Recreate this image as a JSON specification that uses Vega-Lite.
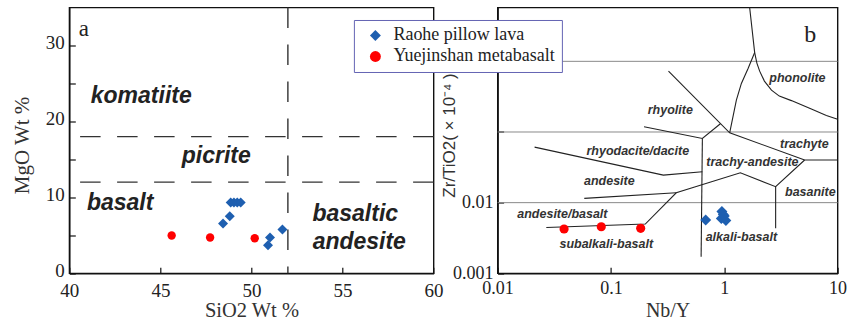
{
  "$schema": "https://vega.github.io/schema/vega-lite/v6.json",
  "padding": {"left": 10.3, "top": 4.5, "right": 4, "bottom": 4},
  "bounds": "flush",
  "spacing": 63.3,
  "background": "white",
  "config": {
    "view": {"stroke": "#111", "strokeWidth": 1.4},
    "style": {"guide-label": {"font": "Liberation Serif", "fill": "#222"}, "guide-title": {"font": "Liberation Serif", "fill": "#333"}},
    "axis": {
      "domainColor": "#111", "domainWidth": 1.4,
      "tickColor": "#111", "tickWidth": 1.2, "tickSize": -6,
      "labelFont": "Liberation Serif", "labelColor": "#222", "labelFlush": false,
      "titleFont": "Liberation Serif", "titleFontWeight": "normal", "titleColor": "#333",
      "grid": false
    },
    "legend": {
      "orient": "none", "legendX": 284.6, "legendY": 12.5,
      "fillColor": "white", "strokeColor": "#6464b4",
      "padding": 6.5, "symbolOffset": 6, "labelOffset": 9, "rowPadding": 3,
      "symbolSize": 120, "symbolStrokeWidth": 0, "labelLimit": 400,
      "labelFont": "Liberation Serif", "labelFontSize": 18, "labelColor": "#222"
    }
  },
  "datasets": {
    "mgoLimits": [{"MgO": 12}, {"MgO": 18}],
    "silicaLimit": [{"SiO2": 52}],
    "fieldsA": [
      {"label": "komatiite", "SiO2": 43.95, "MgO": 22.4},
      {"label": "picrite", "SiO2": 48.07, "MgO": 14.47},
      {"label": "basalt", "SiO2": 42.79, "MgO": 8.31},
      {"label": "basaltic", "SiO2": 55.7, "MgO": 6.9},
      {"label": "andesite", "SiO2": 55.92, "MgO": 3.26}
    ],
    "tagA": [{"label": "a", "SiO2": 40.8, "MgO": 31.2}],
    "raoheA": [
      {"series": "Raohe pillow lava", "SiO2": 48.86, "MgO": 9.33},
      {"series": "Raohe pillow lava", "SiO2": 49.04, "MgO": 9.33},
      {"series": "Raohe pillow lava", "SiO2": 49.22, "MgO": 9.33},
      {"series": "Raohe pillow lava", "SiO2": 49.41, "MgO": 9.33},
      {"series": "Raohe pillow lava", "SiO2": 48.81, "MgO": 7.52},
      {"series": "Raohe pillow lava", "SiO2": 48.44, "MgO": 6.56},
      {"series": "Raohe pillow lava", "SiO2": 51.7, "MgO": 5.77},
      {"series": "Raohe pillow lava", "SiO2": 51.02, "MgO": 4.71},
      {"series": "Raohe pillow lava", "SiO2": 50.91, "MgO": 3.69}
    ],
    "yuejinA": [
      {"series": "Yuejinshan metabasalt", "SiO2": 45.62, "MgO": 4.97},
      {"series": "Yuejinshan metabasalt", "SiO2": 47.73, "MgO": 4.71},
      {"series": "Yuejinshan metabasalt", "SiO2": 50.18, "MgO": 4.62}
    ],
    "gridB": [{"ZrTi": 0.01}, {"ZrTi": 0.1}, {"ZrTi": 1}],
    "boundaries": [
      {"seg": "A", "i": 0, "NbY": 1.675, "ZrTi": 5.78},
      {"seg": "A", "i": 1, "NbY": 1.855, "ZrTi": 1.33},
      {"seg": "A", "i": 2, "NbY": 1.94, "ZrTi": 0.944},
      {"seg": "A", "i": 3, "NbY": 2.053, "ZrTi": 0.727},
      {"seg": "A", "i": 4, "NbY": 2.26, "ZrTi": 0.525},
      {"seg": "A", "i": 5, "NbY": 2.61, "ZrTi": 0.391},
      {"seg": "A", "i": 6, "NbY": 3.06, "ZrTi": 0.322},
      {"seg": "A", "i": 7, "NbY": 3.91, "ZrTi": 0.278},
      {"seg": "A", "i": 8, "NbY": 5.87, "ZrTi": 0.211},
      {"seg": "A", "i": 9, "NbY": 7.96, "ZrTi": 0.171},
      {"seg": "A", "i": 10, "NbY": 10, "ZrTi": 0.151},
      {"seg": "B", "i": 0, "NbY": 1.855, "ZrTi": 1.33},
      {"seg": "B", "i": 1, "NbY": 1.622, "ZrTi": 0.794},
      {"seg": "B", "i": 2, "NbY": 1.416, "ZrTi": 0.487},
      {"seg": "B", "i": 3, "NbY": 1.279, "ZrTi": 0.283},
      {"seg": "B", "i": 4, "NbY": 1.116, "ZrTi": 0.0975},
      {"seg": "C", "i": 0, "NbY": 0.322, "ZrTi": 0.726},
      {"seg": "C", "i": 1, "NbY": 1.116, "ZrTi": 0.0975},
      {"seg": "C", "i": 2, "NbY": 5.12, "ZrTi": 0.0401},
      {"seg": "D", "i": 0, "NbY": 5.12, "ZrTi": 0.0401},
      {"seg": "D", "i": 1, "NbY": 10, "ZrTi": 0.0401},
      {"seg": "E", "i": 0, "NbY": 5.12, "ZrTi": 0.0401},
      {"seg": "E", "i": 1, "NbY": 2.84, "ZrTi": 0.0168},
      {"seg": "E", "i": 2, "NbY": 1.387, "ZrTi": 0.0265},
      {"seg": "E", "i": 3, "NbY": 0.377, "ZrTi": 0.0138},
      {"seg": "E", "i": 4, "NbY": 0.201, "ZrTi": 0.00498},
      {"seg": "E", "i": 5, "NbY": 0.0269, "ZrTi": 0.00445},
      {"seg": "F", "i": 0, "NbY": 2.84, "ZrTi": 0.0168},
      {"seg": "F", "i": 1, "NbY": 2.84, "ZrTi": 0.00433},
      {"seg": "G", "i": 0, "NbY": 0.0582, "ZrTi": 0.0115},
      {"seg": "G", "i": 1, "NbY": 0.377, "ZrTi": 0.0138},
      {"seg": "H", "i": 0, "NbY": 0.0212, "ZrTi": 0.0611},
      {"seg": "H", "i": 1, "NbY": 0.29, "ZrTi": 0.0245},
      {"seg": "H", "i": 2, "NbY": 0.641, "ZrTi": 0.0274},
      {"seg": "I", "i": 0, "NbY": 0.641, "ZrTi": 0.0811},
      {"seg": "I", "i": 1, "NbY": 0.625, "ZrTi": 0.00172},
      {"seg": "J", "i": 0, "NbY": 0.196, "ZrTi": 0.1186},
      {"seg": "J", "i": 1, "NbY": 0.641, "ZrTi": 0.0811},
      {"seg": "J", "i": 2, "NbY": 0.924, "ZrTi": 0.131}
    ],
    "fieldsB": [
      {"label": "phonolite", "NbY": 4.42, "ZrTi": 0.578},
      {"label": "rhyolite", "NbY": 0.334, "ZrTi": 0.204},
      {"label": "trachyte", "NbY": 5.09, "ZrTi": 0.0668},
      {"label": "rhyodacite/dacite", "NbY": 0.1726, "ZrTi": 0.0542},
      {"label": "trachy-andesite", "NbY": 1.77, "ZrTi": 0.0372},
      {"label": "andesite", "NbY": 0.0968, "ZrTi": 0.0202},
      {"label": "basanite", "NbY": 5.75, "ZrTi": 0.014},
      {"label": "andesite/basalt", "NbY": 0.0373, "ZrTi": 0.0069},
      {"label": "subalkali-basalt", "NbY": 0.091, "ZrTi": 0.00259},
      {"label": "alkali-basalt", "NbY": 1.416, "ZrTi": 0.00323}
    ],
    "tagB": [{"label": "b", "NbY": 5.75, "ZrTi": 1.89}],
    "raoheB": [
      {"series": "Raohe pillow lava", "NbY": 0.686, "ZrTi": 0.00568},
      {"series": "Raohe pillow lava", "NbY": 0.953, "ZrTi": 0.00748},
      {"series": "Raohe pillow lava", "NbY": 0.942, "ZrTi": 0.00596},
      {"series": "Raohe pillow lava", "NbY": 1.033, "ZrTi": 0.00558},
      {"series": "Raohe pillow lava", "NbY": 1.0, "ZrTi": 0.00646},
      {"series": "Raohe pillow lava", "NbY": 0.98, "ZrTi": 0.0068}
    ],
    "yuejinB": [
      {"series": "Yuejinshan metabasalt", "NbY": 0.0386, "ZrTi": 0.00424},
      {"series": "Yuejinshan metabasalt", "NbY": 0.0822, "ZrTi": 0.00456},
      {"series": "Yuejinshan metabasalt", "NbY": 0.183, "ZrTi": 0.00433}
    ]
  },
  "hconcat": [
    {
      "width": 364.3,
      "height": 265.8,
      "layer": [
        {
          "data": {"name": "mgoLimits"},
          "mark": {"type": "rule", "strokeDash": [20.5, 16.5], "strokeWidth": 1.4, "color": "#333"},
          "encoding": {
            "y": {
              "field": "MgO", "type": "quantitative", "title": "MgO Wt %",
              "scale": {"domain": [0, 35], "nice": false, "zero": false},
              "axis": {
                "values": [0, 5, 10, 15, 20, 25, 30],
                "labelExpr": "datum.value % 10 === 0 ? datum.label : ''",
                "labelFont": "Liberation Serif", "labelFontSize": 19, "labelPadding": 11, "labelOffset": -2.5,
                "titleFontSize": 21, "titleX": -36.7, "titleY": 137.5
              }
            }
          }
        },
        {
          "data": {"name": "silicaLimit"},
          "mark": {"type": "rule", "strokeDash": [20.5, 16.5], "strokeWidth": 1.4, "color": "#333"},
          "encoding": {
            "x": {
              "field": "SiO2", "type": "quantitative", "title": "SiO2 Wt %",
              "scale": {"domain": [40, 60], "nice": false, "zero": false},
              "axis": {
                "values": [40, 45, 50, 55, 60],
                "labelFont": "Liberation Serif", "labelFontSize": 19, "labelPadding": 14,
                "titleFontSize": 20.5, "titleY": 27.5
              }
            }
          }
        },
        {
          "data": {"name": "fieldsA"},
          "mark": {"type": "text", "font": "Liberation Sans", "fontStyle": "italic", "fontWeight": "bold", "fontSize": 23, "color": "#222", "align": "center", "baseline": "alphabetic"},
          "encoding": {
            "x": {"field": "SiO2", "type": "quantitative", "title": "SiO2 Wt %"},
            "y": {"field": "MgO", "type": "quantitative", "title": "MgO Wt %"},
            "text": {"field": "label"}
          }
        },
        {
          "data": {"name": "tagA"},
          "mark": {"type": "text", "font": "Liberation Serif", "fontSize": 23, "color": "#222", "align": "center", "baseline": "alphabetic"},
          "encoding": {
            "x": {"field": "SiO2", "type": "quantitative", "title": "SiO2 Wt %"},
            "y": {"field": "MgO", "type": "quantitative", "title": "MgO Wt %"},
            "text": {"field": "label"}
          }
        },
        {
          "data": {"name": "yuejinA"},
          "mark": {"type": "point", "filled": true, "opacity": 1, "size": 70},
          "encoding": {
            "x": {"field": "SiO2", "type": "quantitative", "title": "SiO2 Wt %"},
            "y": {"field": "MgO", "type": "quantitative", "title": "MgO Wt %"},
            "color": {"field": "series", "type": "nominal", "scale": {"domain": ["Raohe pillow lava", "Yuejinshan metabasalt"], "range": ["#1e5fb0", "#ff0000"]}, "legend": {"title": null}},
            "shape": {"field": "series", "type": "nominal", "scale": {"domain": ["Raohe pillow lava", "Yuejinshan metabasalt"], "range": ["diamond", "circle"]}, "legend": {"title": null}}
          }
        },
        {
          "data": {"name": "raoheA"},
          "mark": {"type": "point", "filled": true, "opacity": 1, "size": 100},
          "encoding": {
            "x": {"field": "SiO2", "type": "quantitative", "title": "SiO2 Wt %"},
            "y": {"field": "MgO", "type": "quantitative", "title": "MgO Wt %"},
            "color": {"field": "series", "type": "nominal", "scale": {"domain": ["Raohe pillow lava", "Yuejinshan metabasalt"], "range": ["#1e5fb0", "#ff0000"]}, "legend": {"title": null}},
            "shape": {"field": "series", "type": "nominal", "scale": {"domain": ["Raohe pillow lava", "Yuejinshan metabasalt"], "range": ["diamond", "circle"]}, "legend": {"title": null}}
          }
        }
      ]
    },
    {
      "width": 340,
      "height": 265.8,
      "layer": [
        {
          "data": {"name": "gridB"},
          "mark": {"type": "rule", "color": "#8a8a8a", "strokeWidth": 1},
          "encoding": {
            "y": {
              "field": "ZrTi", "type": "quantitative", "title": "Zr/TiO2( × 10⁻⁴ )",
              "scale": {"type": "log", "domain": [0.001, 5.78], "nice": false},
              "axis": {
                "values": [0.001, 0.01, 0.1, 1],
                "labelExpr": "datum.value < 0.05 ? format(datum.value, '~g') : ''",
                "labelFont": "Liberation Serif", "labelFontSize": 18, "labelPadding": 10.6,
                "titleFont": "Liberation Sans", "titleFontSize": 17, "titleColor": "#333",
                "titleLimit": 400, "titleX": -38.6, "titleY": 127.5
              }
            }
          }
        },
        {
          "data": {"name": "boundaries"},
          "mark": {"type": "line", "color": "#222", "strokeWidth": 1.1},
          "encoding": {
            "x": {
              "field": "NbY", "type": "quantitative", "title": "Nb/Y",
              "scale": {"type": "log", "domain": [0.01, 10], "nice": false},
              "axis": {
                "values": [0.01, 0.1, 1, 10],
                "format": "~g",
                "labelFont": "Liberation Serif", "labelFontSize": 18, "labelPadding": 12,
                "titleFontSize": 20, "titleY": 27.1
              }
            },
            "y": {"field": "ZrTi", "type": "quantitative", "title": "Zr/TiO2( × 10⁻⁴ )"},
            "detail": {"field": "seg"},
            "order": {"field": "i", "type": "quantitative"}
          }
        },
        {
          "data": {"name": "fieldsB"},
          "mark": {"type": "text", "font": "Liberation Sans", "fontStyle": "italic", "fontWeight": "bold", "fontSize": 12.5, "color": "#333", "align": "center", "baseline": "middle"},
          "encoding": {
            "x": {"field": "NbY", "type": "quantitative", "title": "Nb/Y"},
            "y": {"field": "ZrTi", "type": "quantitative", "title": "Zr/TiO2( × 10⁻⁴ )"},
            "text": {"field": "label"}
          }
        },
        {
          "data": {"name": "tagB"},
          "mark": {"type": "text", "font": "Liberation Serif", "fontSize": 24, "color": "#222", "align": "center", "baseline": "alphabetic"},
          "encoding": {
            "x": {"field": "NbY", "type": "quantitative", "title": "Nb/Y"},
            "y": {"field": "ZrTi", "type": "quantitative", "title": "Zr/TiO2( × 10⁻⁴ )"},
            "text": {"field": "label"}
          }
        },
        {
          "data": {"name": "yuejinB"},
          "mark": {"type": "point", "filled": true, "opacity": 1, "size": 84},
          "encoding": {
            "x": {"field": "NbY", "type": "quantitative", "title": "Nb/Y"},
            "y": {"field": "ZrTi", "type": "quantitative", "title": "Zr/TiO2( × 10⁻⁴ )"},
            "color": {"field": "series", "type": "nominal", "scale": {"domain": ["Raohe pillow lava", "Yuejinshan metabasalt"], "range": ["#1e5fb0", "#ff0000"]}, "legend": {"title": null}},
            "shape": {"field": "series", "type": "nominal", "scale": {"domain": ["Raohe pillow lava", "Yuejinshan metabasalt"], "range": ["diamond", "circle"]}, "legend": {"title": null}}
          }
        },
        {
          "data": {"name": "raoheB"},
          "mark": {"type": "point", "filled": true, "opacity": 1, "size": 120},
          "encoding": {
            "x": {"field": "NbY", "type": "quantitative", "title": "Nb/Y"},
            "y": {"field": "ZrTi", "type": "quantitative", "title": "Zr/TiO2( × 10⁻⁴ )"},
            "color": {"field": "series", "type": "nominal", "scale": {"domain": ["Raohe pillow lava", "Yuejinshan metabasalt"], "range": ["#1e5fb0", "#ff0000"]}, "legend": {"title": null}},
            "shape": {"field": "series", "type": "nominal", "scale": {"domain": ["Raohe pillow lava", "Yuejinshan metabasalt"], "range": ["diamond", "circle"]}, "legend": {"title": null}}
          }
        }
      ]
    }
  ]
}
